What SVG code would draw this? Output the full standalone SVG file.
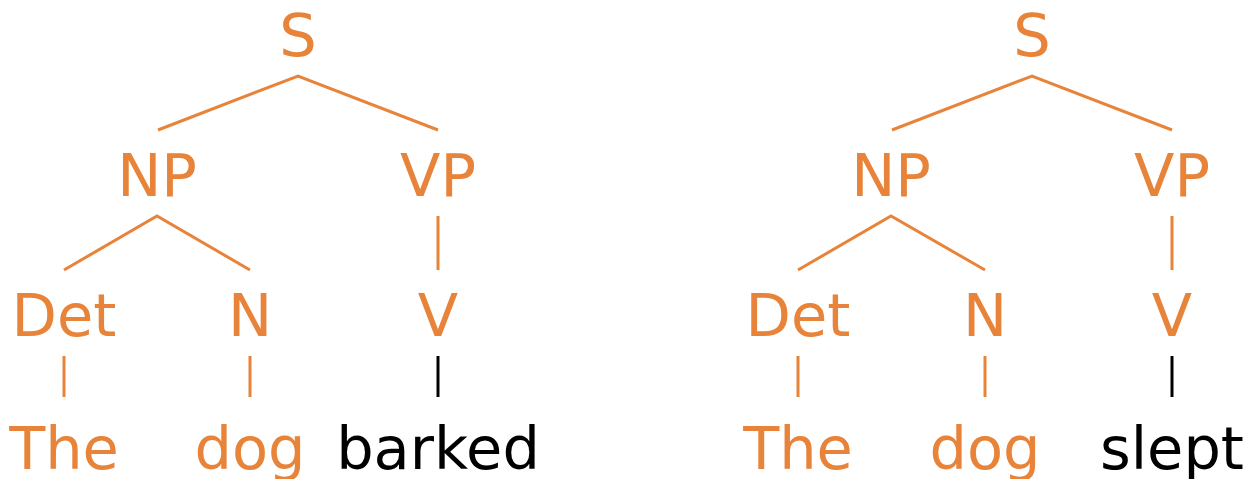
<svg xmlns="http://www.w3.org/2000/svg" width="1256" height="479" viewBox="0 0 1256 479">
<style>
text{font-family:"DejaVu Sans",sans-serif;font-size:59px;text-anchor:middle}
.o{fill:#e8833a}
.k{fill:#000}
.e{stroke:#e8833a;stroke-width:3;fill:none}
.b{stroke:#000;stroke-width:3;fill:none}
</style>
<rect width="1256" height="479" fill="#fff"/>
<g id="connectors">
<path class="e" d="M158 130L298 76L438 130M64 270L157 216L250 270M438 216V270M64 356V397M250 356V397"/>
<path class="b" d="M438 356V397"/>
<path class="e" d="M892 130L1032 76L1172 130M798 270L891 216L985 270M1172 216V270M798 356V397M985 356V397"/>
<path class="b" d="M1172 356V397"/>
</g>
<g id="tree1">
<g id="s1"><text class="o" x="298" y="56">S</text></g>
<g id="np1"><text class="o" x="157" y="196">NP</text></g>
<g id="vp1"><text class="o" x="438" y="196">VP</text></g>
<g id="det1"><text class="o" x="64" y="336">Det</text></g>
<g id="n1"><text class="o" x="250" y="336">N</text></g>
<g id="v1"><text class="o" x="438" y="336">V</text></g>
<g id="the1"><text class="o" x="64" y="469">The</text></g>
<g id="dog1"><text class="o" x="250" y="469">dog</text></g>
<g id="barked1"><text class="k" x="438" y="469">barked</text></g>
</g>
<g id="tree2">
<g id="s2"><text class="o" x="1032" y="56">S</text></g>
<g id="np2"><text class="o" x="891" y="196">NP</text></g>
<g id="vp2"><text class="o" x="1172" y="196">VP</text></g>
<g id="det2"><text class="o" x="798" y="336">Det</text></g>
<g id="n2"><text class="o" x="985" y="336">N</text></g>
<g id="v2"><text class="o" x="1172" y="336">V</text></g>
<g id="the2"><text class="o" x="798" y="469">The</text></g>
<g id="dog2"><text class="o" x="985" y="469">dog</text></g>
<g id="slept2"><text class="k" x="1172" y="469">slept</text></g>
</g>
</svg>
